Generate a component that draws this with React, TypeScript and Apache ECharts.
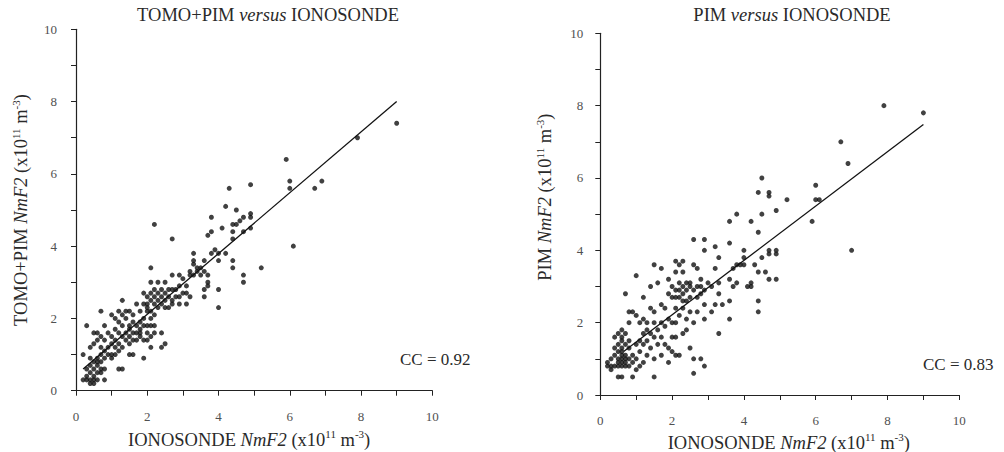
import React, { useEffect, useRef } from "react";
import * as echarts from "echarts";

// Tick values shown on both axes of both panels
const tickLabels = [0, 2, 4, 6, 8, 10];

// Left panel: TOMO+PIM vs IONOSONDE (x: ionosonde, y: model), units 1e11 m^-3
const leftPoints: [number, number][] = [
  [0.2,0.3],[0.2,1.0],[0.3,0.3],[0.3,0.4],[0.3,0.6],[0.3,1.8],[0.4,0.2],[0.4,0.3],[0.4,0.5],[0.4,0.7],
  [0.4,0.9],[0.4,1.2],[0.5,0.2],[0.5,0.3],[0.5,0.4],[0.5,0.6],[0.5,0.8],[0.5,1.3],[0.5,1.6],[0.6,0.3],
  [0.6,0.5],[0.6,0.7],[0.6,0.8],[0.6,0.9],[0.6,1.4],[0.6,1.6],[0.7,0.5],[0.7,0.6],[0.7,0.8],[0.7,1.0],
  [0.7,1.2],[0.7,1.5],[0.7,2.2],[0.8,0.3],[0.8,0.6],[0.8,0.9],[0.8,1.1],[0.8,1.4],[0.8,1.8],[0.9,1.0],
  [0.9,1.2],[0.9,1.6],[1.0,0.9],[1.0,1.0],[1.0,1.3],[1.0,1.5],[1.0,2.1],[1.1,1.0],[1.1,1.2],[1.1,1.4],
  [1.1,1.7],[1.1,2.0],[1.2,0.6],[1.2,1.1],[1.2,1.3],[1.2,1.6],[1.2,1.9],[1.2,2.2],[1.3,0.6],[1.3,1.2],
  [1.3,1.5],[1.3,1.8],[1.3,2.1],[1.3,2.5],[1.4,1.4],[1.4,1.6],[1.4,2.0],[1.4,2.2],[1.5,1.0],[1.5,1.3],
  [1.5,1.5],[1.5,1.7],[1.5,1.8],[1.5,2.2],[1.6,1.0],[1.6,1.4],[1.6,1.6],[1.6,1.9],[1.6,2.1],[1.7,1.4],
  [1.7,1.6],[1.7,1.8],[1.7,2.4],[1.8,1.5],[1.8,1.6],[1.8,1.7],[1.8,1.9],[1.8,2.2],[1.9,0.9],[1.9,1.4],
  [1.9,1.8],[1.9,2.0],[1.9,2.4],[1.9,2.7],[2.0,1.4],[2.0,1.6],[2.0,1.8],[2.0,2.2],[2.0,2.3],[2.0,2.4],
  [2.0,2.6],[2.1,1.2],[2.1,1.5],[2.1,1.8],[2.1,2.0],[2.1,2.2],[2.1,2.5],[2.1,2.7],[2.1,3.0],[2.1,3.4],
  [2.2,1.6],[2.2,1.8],[2.2,2.1],[2.2,2.4],[2.2,2.6],[2.2,2.8],[2.2,4.6],[2.3,2.3],[2.3,2.5],[2.3,2.7],
  [2.3,3.0],[2.4,1.2],[2.4,1.6],[2.4,2.4],[2.4,2.6],[2.4,2.8],[2.5,1.3],[2.5,2.3],[2.5,2.5],[2.5,2.7],
  [2.5,3.0],[2.6,2.3],[2.6,2.6],[2.6,2.8],[2.7,2.4],[2.7,2.5],[2.7,2.8],[2.7,3.2],[2.7,4.2],[2.8,2.6],
  [2.8,2.8],[2.9,2.4],[2.9,2.6],[2.9,2.9],[2.9,3.2],[3.0,2.7],[3.0,3.1],[3.1,2.4],[3.1,2.7],[3.1,2.9],
  [3.2,2.6],[3.2,3.2],[3.2,3.3],[3.3,3.2],[3.3,3.5],[3.3,3.6],[3.3,3.8],[3.4,3.3],[3.4,3.4],[3.5,3.2],
  [3.5,3.4],[3.6,2.6],[3.6,2.8],[3.6,3.3],[3.6,3.6],[3.7,2.9],[3.7,3.0],[3.7,3.2],[3.7,4.3],[3.8,3.8],
  [3.8,4.4],[3.8,4.8],[3.9,3.9],[4.0,2.3],[4.0,2.8],[4.0,3.6],[4.0,3.8],[4.1,4.5],[4.2,3.8],[4.2,5.1],
  [4.3,5.6],[4.4,3.4],[4.4,3.6],[4.4,4.2],[4.4,4.4],[4.4,4.6],[4.5,4.6],[4.5,5.0],[4.6,4.7],[4.7,3.0],
  [4.7,3.2],[4.7,4.4],[4.7,4.8],[4.9,4.5],[4.9,4.8],[4.9,4.9],[4.9,5.7],[5.2,3.4],[5.9,6.4],[6.0,5.6],
  [6.0,5.8],[6.1,4.0],[6.7,5.6],[6.9,5.8],[7.9,7.0],[9.0,7.4]
];

// Right panel: PIM vs IONOSONDE
const rightPoints: [number, number][] = [
  [0.2,0.8],[0.2,0.9],[0.3,0.7],[0.3,0.8],[0.3,1.0],[0.4,0.8],[0.4,1.1],[0.4,1.3],[0.4,1.6],[0.5,0.5],
  [0.5,0.8],[0.5,0.9],[0.5,1.0],[0.5,1.2],[0.5,1.4],[0.5,1.7],[0.6,0.5],[0.6,0.8],[0.6,0.9],[0.6,1.0],
  [0.6,1.1],[0.6,1.2],[0.6,1.3],[0.6,1.5],[0.6,1.6],[0.6,1.8],[0.7,0.8],[0.7,0.9],[0.7,1.0],[0.7,1.1],
  [0.7,1.4],[0.7,1.7],[0.7,2.8],[0.8,0.8],[0.8,1.0],[0.8,1.3],[0.8,1.5],[0.8,2.0],[0.8,2.3],[0.9,0.5],
  [0.9,0.9],[0.9,1.1],[0.9,2.3],[1.0,0.7],[1.0,1.0],[1.0,1.4],[1.0,2.2],[1.0,3.3],[1.1,0.8],[1.1,1.2],
  [1.1,1.5],[1.1,2.0],[1.2,0.9],[1.2,1.4],[1.2,1.7],[1.2,2.1],[1.2,2.7],[1.3,1.1],[1.3,1.5],[1.3,1.8],
  [1.3,2.0],[1.4,1.3],[1.4,1.7],[1.4,2.4],[1.4,3.0],[1.5,0.5],[1.5,1.0],[1.5,1.6],[1.5,2.0],[1.5,2.3],
  [1.5,3.6],[1.6,1.4],[1.6,1.8],[1.6,3.1],[1.7,1.1],[1.7,1.6],[1.7,2.0],[1.7,2.5],[1.7,3.5],[1.8,1.4],
  [1.8,1.9],[1.8,2.4],[1.9,0.9],[1.9,1.3],[1.9,2.1],[1.9,2.8],[1.9,3.2],[2.0,1.2],[2.0,1.6],[2.0,2.0],
  [2.0,2.7],[2.0,3.0],[2.1,1.1],[2.1,1.6],[2.1,2.0],[2.1,2.4],[2.1,2.7],[2.1,2.9],[2.1,3.4],[2.1,3.7],
  [2.2,1.1],[2.2,2.2],[2.2,2.7],[2.2,2.9],[2.2,3.1],[2.2,3.6],[2.3,1.7],[2.3,2.4],[2.3,2.6],[2.3,2.8],
  [2.3,3.0],[2.3,3.4],[2.3,3.7],[2.4,1.8],[2.4,2.1],[2.4,2.6],[2.4,2.9],[2.4,3.1],[2.5,1.3],[2.5,2.3],
  [2.5,2.7],[2.5,3.0],[2.5,3.1],[2.6,0.6],[2.6,1.0],[2.6,2.0],[2.6,2.9],[2.6,3.6],[2.6,4.3],[2.7,2.3],
  [2.7,2.7],[2.7,3.0],[2.7,3.5],[2.8,1.0],[2.8,2.8],[2.8,3.0],[2.8,3.2],[2.9,0.8],[2.9,2.1],[2.9,2.5],
  [2.9,2.9],[2.9,4.0],[2.9,4.3],[3.0,3.1],[3.1,2.3],[3.1,3.0],[3.2,2.5],[3.2,3.5],[3.2,4.1],[3.3,1.7],
  [3.3,2.8],[3.3,3.1],[3.3,3.8],[3.4,2.5],[3.6,2.1],[3.6,2.6],[3.6,3.2],[3.6,4.2],[3.6,4.8],[3.7,3.0],
  [3.7,3.5],[3.8,3.1],[3.8,3.6],[3.8,5.0],[3.9,3.6],[4.0,3.6],[4.0,3.8],[4.0,4.0],[4.1,3.0],[4.2,3.0],
  [4.2,3.1],[4.2,4.8],[4.3,3.6],[4.4,2.3],[4.4,2.6],[4.4,3.4],[4.4,4.5],[4.4,5.6],[4.5,3.8],[4.5,5.0],
  [4.5,6.0],[4.6,3.4],[4.7,3.2],[4.7,3.9],[4.7,4.0],[4.7,5.5],[4.7,5.6],[4.9,3.2],[4.9,3.9],[4.9,4.0],
  [4.9,5.1],[5.2,5.4],[5.9,4.8],[6.0,5.4],[6.0,5.8],[6.1,5.4],[6.7,7.0],[6.9,6.4],[7.0,4.0],[7.9,8.0],
  [9.0,7.8]
];

// Least-squares fit lines as drawn (end points, data units)
const leftFitX = [0.2, 9.0];
const leftFitY = [0.6, 8.0];
const rightFitX = [0.65, 9.0];
const rightFitY = [1.2, 7.48];

const leftCC = "CC = 0.92";
const rightCC = "CC = 0.83";

const FONT = "'Liberation Serif', 'Times New Roman', serif";
const TEXT = "#2a2a2a";
const TICK = "#505050";
const NAME_SIZE = 18.5;

const richStyles = {
  n: { fontFamily: FONT, fontSize: NAME_SIZE, color: TEXT, fontWeight: "normal", lineHeight: 22 },
  i: { fontFamily: FONT, fontSize: NAME_SIZE, color: TEXT, fontWeight: "normal", fontStyle: "italic", lineHeight: 22 },
  s: { fontFamily: FONT, fontSize: 11, color: TEXT, fontWeight: "normal", lineHeight: 22, verticalAlign: "top", padding: [0, 0, 6, 0] },
  g: { fontFamily: FONT, fontSize: NAME_SIZE, lineHeight: 22, width: 34 },
};

const unitName = (prefix: string) =>
  `{n|${prefix} }{i|NmF2}{n| (x10}{s|11}{n| m}{s|-3}{n|)}`;

const tickFormatter = (v: number) => (tickLabels.includes(v) ? String(v) : "");

function makeXAxis(gridIndex: number, gap: number, namePadding: number[]) {
  return {
    type: "value",
    gridIndex,
    min: 0,
    max: 10,
    interval: 1,
    name: unitName("IONOSONDE"),
    nameLocation: "middle",
    nameGap: gap,
    nameTextStyle: { rich: richStyles, padding: namePadding },
    axisLine: { show: true, onZero: false, lineStyle: { color: "#222", width: 1.2 } },
    axisTick: { show: true, inside: false, length: 5, lineStyle: { color: "#222" } },
    axisLabel: {
      show: true,
      margin: 19,
      fontFamily: FONT,
      fontSize: 13,
      color: TICK,
      formatter: tickFormatter,
    },
    splitLine: { show: false },
  };
}

function makeYAxis(gridIndex: number, name: string, gap: number, margin: number) {
  return {
    type: "value",
    gridIndex,
    min: 0,
    max: 10,
    interval: 1,
    name,
    nameLocation: "middle",
    nameGap: gap,
    nameRotate: 90,
    nameTextStyle: { rich: richStyles },
    axisLine: { show: true, onZero: false, lineStyle: { color: "#222", width: 1.2 } },
    axisTick: { show: true, inside: false, length: 5, lineStyle: { color: "#222" } },
    axisLabel: {
      show: true,
      margin,
      fontFamily: FONT,
      fontSize: 13,
      color: TICK,
      formatter: tickFormatter,
    },
    splitLine: { show: false },
  };
}

export default function App() {
  const ref = useRef<HTMLDivElement>(null);

  useEffect(() => {
    document.body.style.margin = "0";
    if (!ref.current) return;
    const chart = echarts.init(ref.current, undefined, { renderer: "svg" });

    const option = {
      animation: false,
      backgroundColor: "#ffffff",
      textStyle: { fontFamily: FONT, color: TICK },
      title: [
        {
          text: "{n|TOMO+PIM }{i|versus}{n| IONOSONDE}",
          left: 268,
          top: 4,
          padding: 0,
          textAlign: "center",
          textStyle: { fontWeight: "normal", rich: richStyles },
        },
        {
          text: "{n|PIM }{i|versus}{n| IONOSONDE}",
          left: 792,
          top: 4,
          padding: 0,
          textAlign: "center",
          textStyle: { fontWeight: "normal", rich: richStyles },
        },
      ],
      grid: [
        { left: 76, top: 29.3, width: 356.3, height: 361.4, containLabel: false, outerBoundsMode: "none" },
        { left: 600.3, top: 33.3, width: 359, height: 361.7, containLabel: false, outerBoundsMode: "none" },
      ],
      xAxis: [makeXAxis(0, 38, [0, 10, 0, 0]), makeXAxis(1, 35, [0, 0, 0, 18])],
      yAxis: [
        makeYAxis(0, unitName("TOMO+PIM"), 44, 19),
        makeYAxis(1, "{g| }" + unitName("PIM"), 44, 17),
      ],
      graphic: [
        {
          type: "text",
          left: 400,
          top: 351,
          style: { text: leftCC, font: `17px ${FONT}`, fill: TEXT },
        },
        {
          type: "text",
          left: 923,
          top: 356,
          style: { text: rightCC, font: `17px ${FONT}`, fill: TEXT },
        },
      ],
      series: [
        {
          type: "scatter",
          xAxisIndex: 0,
          yAxisIndex: 0,
          data: leftPoints,
          symbol: "circle",
          symbolSize: 5,
          itemStyle: { color: "#111" },
        },
        {
          type: "line",
          xAxisIndex: 0,
          yAxisIndex: 0,
          data: leftFitX.map((x, i) => [x, leftFitY[i]]),
          symbol: "none",
          lineStyle: { color: "#111", width: 1.3 },
        },
        {
          type: "scatter",
          xAxisIndex: 1,
          yAxisIndex: 1,
          data: rightPoints,
          symbol: "circle",
          symbolSize: 5,
          itemStyle: { color: "#111" },
        },
        {
          type: "line",
          xAxisIndex: 1,
          yAxisIndex: 1,
          data: rightFitX.map((x, i) => [x, rightFitY[i]]),
          symbol: "none",
          lineStyle: { color: "#111", width: 1.3 },
        },
      ],
    };

    chart.setOption(option as any);
    return () => chart.dispose();
  }, []);

  return <div ref={ref} style={{ width: 1004, height: 452 }} />;
}
